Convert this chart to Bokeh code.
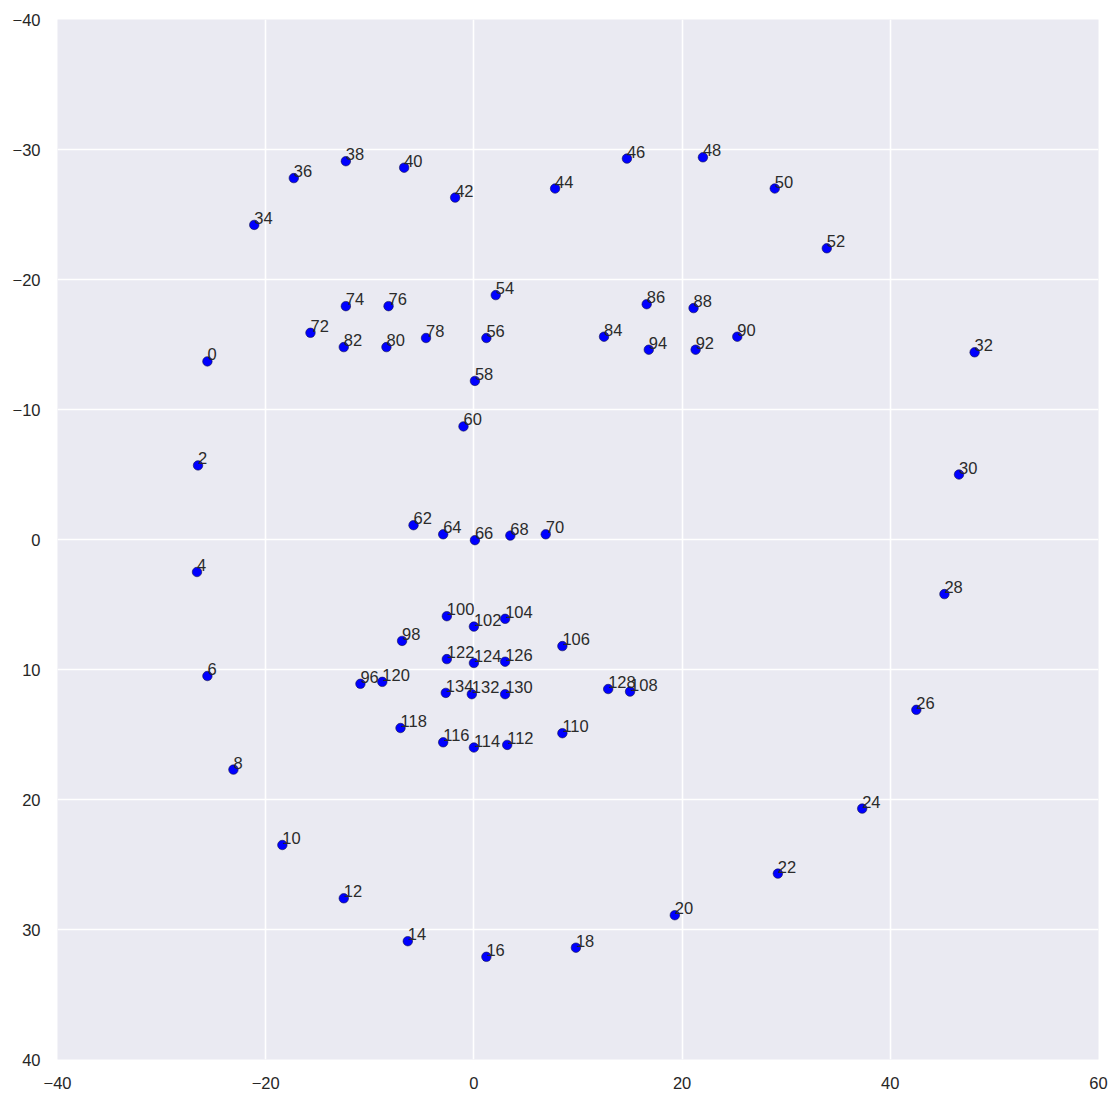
from bokeh.plotting import figure
from bokeh.models import ColumnDataSource, Range1d, FixedTicker
from bokeh.embed import file_html
from bokeh.resources import INLINE

# Landmark indices and their coordinates
point_ids = [0, 2, 4, 6, 8, 10, 12, 14, 16, 18, 20, 22, 24, 26, 28, 30, 32,
             34, 36, 38, 40, 42, 44, 46, 48, 50, 52,
             54, 56, 58, 60, 62, 64, 66, 68, 70,
             72, 74, 76, 78, 80, 82, 84, 86, 88, 90, 92, 94,
             96, 98, 100, 102, 104, 106, 108, 110, 112, 114, 116, 118,
             120, 122, 124, 126, 128, 130, 132, 134]

x_vals = [-25.6, -26.5, -26.6, -25.6, -23.1, -18.4, -12.5, -6.35, 1.2, 9.8, 19.3, 29.2, 37.3, 42.5, 45.2, 46.6, 48.1,
          -21.1, -17.3, -12.3, -6.7, -1.8, 7.8, 14.7, 22.0, 28.9, 33.9,
          2.1, 1.2, 0.1, -1.0, -5.8, -2.95, 0.1, 3.5, 6.9,
          -15.7, -12.3, -8.2, -4.6, -8.4, -12.5, 12.5, 16.6, 21.1, 25.3, 21.3, 16.8,
          -10.9, -6.9, -2.6, 0.0, 3.0, 8.5, 15.0, 8.5, 3.2, 0.0, -2.95, -7.05,
          -8.8, -2.6, 0.0, 3.0, 12.9, 3.0, -0.2, -2.7]

y_vals = [-13.7, -5.7, 2.5, 10.5, 17.7, 23.5, 27.6, 30.9, 32.1, 31.4, 28.9, 25.7, 20.7, 13.1, 4.2, -5.0, -14.4,
          -24.2, -27.8, -29.1, -28.6, -26.3, -27.0, -29.3, -29.4, -27.0, -22.4,
          -18.8, -15.5, -12.2, -8.7, -1.1, -0.4, 0.05, -0.3, -0.4,
          -15.9, -17.95, -17.95, -15.5, -14.8, -14.8, -15.6, -18.1, -17.8, -15.6, -14.6, -14.6,
          11.1, 7.8, 5.9, 6.7, 6.1, 8.2, 11.7, 14.9, 15.8, 16.0, 15.6, 14.5,
          10.95, 9.2, 9.5, 9.4, 11.5, 11.9, 11.9, 11.8]

x_ticks = [-40, -20, 0, 20, 40, 60]
y_ticks = [-40, -30, -20, -10, 0, 10, 20, 30, 40]


def tick_text(v):
    return ("\u2212" + str(abs(v))) if v < 0 else str(v)


source = ColumnDataSource(data=dict(
    x=x_vals, y=y_vals, label=[str(i) for i in point_ids]))

p = figure(
    output_backend="svg", toolbar_location=None,
    frame_width=1041, frame_height=1040,
    min_border_left=57, min_border_top=19, min_border_right=17, min_border_bottom=36,
    x_range=Range1d(-40, 60), y_range=Range1d(40, -40),
    background_fill_color="#EAEAF2", border_fill_color="white",
)
p.outline_line_color = None

for ax in (p.xaxis[0], p.yaxis[0]):
    ax.axis_line_color = None
    ax.major_tick_line_color = None
    ax.minor_tick_line_color = None
    ax.major_label_text_font = "Liberation Sans"
    ax.major_label_text_font_size = "16.5px"
    ax.major_label_text_color = "#262626"

p.xaxis[0].ticker = FixedTicker(ticks=x_ticks)
p.yaxis[0].ticker = FixedTicker(ticks=y_ticks)
p.xaxis[0].major_label_overrides = {v: tick_text(v) for v in x_ticks}
p.yaxis[0].major_label_overrides = {v: tick_text(v) for v in y_ticks}
p.xaxis[0].major_label_standoff = 11
p.yaxis[0].major_label_standoff = 11

p.xgrid.ticker = FixedTicker(ticks=x_ticks)
p.ygrid.ticker = FixedTicker(ticks=y_ticks)
for g in (p.xgrid[0], p.ygrid[0]):
    g.grid_line_color = "white"
    g.grid_line_width = 1.6

p.scatter("x", "y", source=source, size=9.5, fill_color="#0000FF",
          line_color="#10104a", line_width=0.6)
p.text("x", "y", text="label", source=source, text_align="left",
       text_baseline="alphabetic", y_offset=-7, text_font_size="16.5px",
       text_color="#2b2b2b", text_font={"value": "Liberation Sans"})

open("out.html", "w").write(file_html(p, INLINE))
